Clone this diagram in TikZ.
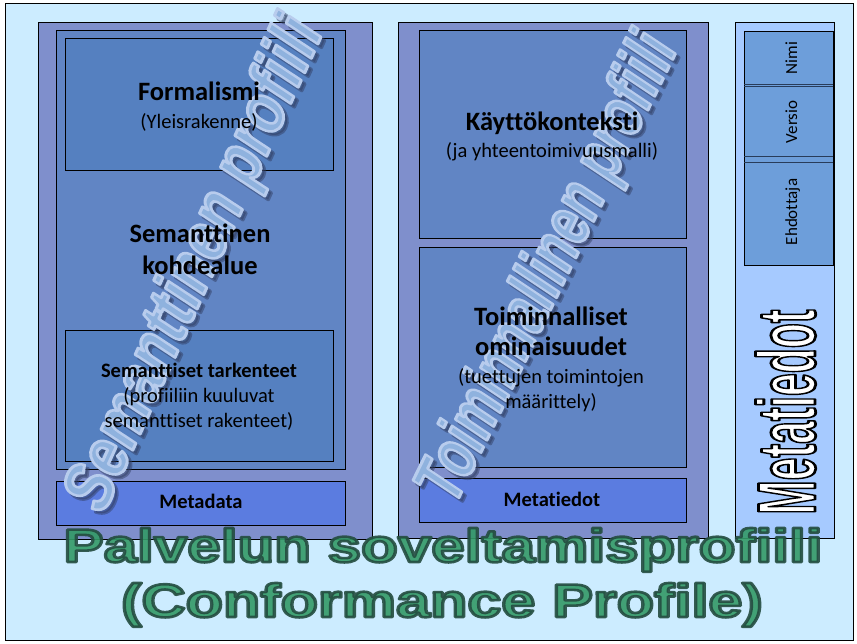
\documentclass[tikz,border=0pt]{standalone}
\usepackage{fontspec}
\usepackage{graphicx}
\setmainfont{Carlito}[Ligatures={NoCommon}]
\newfontfamily\arialfont{Liberation Sans}[Ligatures={NoCommon}]
\definecolor{bgblue}{RGB}{204,236,255}
\definecolor{panelc}{RGB}{127,143,204}
\definecolor{bigboxc}{RGB}{97,133,196}
\definecolor{subboxc}{RGB}{85,128,192}
\definecolor{metaboxc}{RGB}{91,124,224}
\definecolor{colbgc}{RGB}{166,202,255}
\definecolor{colboxc}{RGB}{109,158,218}
\definecolor{wmfillc}{RGB}{143,178,222}
\definecolor{wmshadowc}{RGB}{50,65,100}
\definecolor{titlegreen}{RGB}{51,153,102}
\definecolor{divc}{RGB}{40,60,90}
\newcommand\strokedtext[3]{\special{pdf:literal direct #1 RG #2 w 1 j 2 Tr}#3\special{pdf:literal direct 0 Tr}}
\begin{document}
\begin{tikzpicture}[x=1pt,y=-1pt,
  panelst/.style={draw=black, line width=0.9pt, fill=panelc},
  bigst/.style={draw=black, line width=0.9pt, fill=bigboxc},
  subst/.style={draw=black, line width=0.9pt, fill=subboxc},
  metast/.style={draw=black, line width=0.9pt, fill=metaboxc},
  colst/.style={draw=black, line width=0.9pt, fill=colbgc},
  colboxst/.style={draw=black, line width=0.9pt, fill=colboxc},
  divst/.style={draw=divc, line width=0.7pt},
  boldtxt/.style={font=\fontsize{26.5}{32}\selectfont\bfseries, anchor=base, inner sep=0pt},
  regtxt/.style={font=\fontsize{20.5}{25}\selectfont, anchor=base, inner sep=0pt},
  smallbold/.style={font=\fontsize{20.5}{25}\selectfont\bfseries, anchor=base, inner sep=0pt},
  coltxt/.style={font=\fontsize{17}{20}\selectfont, anchor=base, rotate=90, inner sep=0pt},
  wm/.style={inner sep=0pt, font=\arialfont\bfseries\itshape\fontsize{60}{60}\selectfont},
  titlest/.style={anchor=base, inner sep=0pt, text=titlegreen, opacity=0.9, font=\arialfont\bfseries\fontsize{47}{47}\selectfont}
]
\useasboundingbox (0,0) rectangle (857,643);
\fill[white] (0,0) rectangle (857,643);
\draw[fill=bgblue, line width=1pt] (5,3) rectangle (853,640);
% left panel
\draw[panelst] (38,22) rectangle (372,539);
\draw[bigst] (56,30) rectangle (345,469);
\draw[subst] (65,38) rectangle (333,170);
\draw[subst] (65,330) rectangle (333,461);
\draw[metast] (56,481) rectangle (345,525);
% middle panel
\draw[panelst] (398,22) rectangle (708,538);
\draw[bigst] (419,30) rectangle (686,238);
\draw[bigst] (419,247) rectangle (686,467);
\draw[metast] (419,478) rectangle (686,522);
% right column
\draw[colst] (735,22) rectangle (834,538);
\draw[colboxst] (744,31) rectangle (833,265);
\draw[divst] (744,84.5) -- (833,84.5);
\draw[divst] (744,86.5) -- (833,86.5);
\draw[divst] (744,156) -- (833,156);
\draw[divst] (744,162) -- (833,162);
% watermarks
\node[wm, rotate=65.5, text=wmshadowc, opacity=0.5] (wmSsh) at (200.5,268.5) {\scalebox{0.95}[1.18]{\strokedtext{0.2 0.25 0.4}{3}{Semanttinen profiili}}};
\node[wm, rotate=65.5, text=wmfillc] (wmS) at (197,265) {\scalebox{0.95}[1.18]{\strokedtext{0.72 0.8 0.93}{2.6}{Semanttinen profiili}}};
\node[wm, rotate=64, text=wmshadowc, opacity=0.5] (wmTsh) at (553.5,272.5) {\scalebox{0.82}[1.18]{\strokedtext{0.2 0.25 0.4}{3}{Toiminnallinen profiili}}};
\node[wm, rotate=64, text=wmfillc] (wmT) at (550,269) {\scalebox{0.82}[1.18]{\strokedtext{0.72 0.8 0.93}{2.6}{Toiminnallinen profiili}}};
% box texts
\node[boldtxt] (formalismi) at (199,100) {Formalismi};
\node[regtxt] (yleis) at (199,128) {(Yleisrakenne)};
\node[boldtxt] (sem1) at (200,242) {Semanttinen};
\node[boldtxt] (sem2) at (200,274) {kohdealue};
\node[smallbold] (tark) at (199,377) {Semanttiset tarkenteet};
\node[regtxt] (prof1) at (199,402) {(profiiliin kuuluvat};
\node[regtxt] (prof2) at (199,427) {semanttiset rakenteet)};
\node[smallbold] (metadata) at (201,508) {Metadata};
\node[boldtxt] (kaytto) at (552,130) {Käyttökonteksti};
\node[regtxt] (yht) at (552,157) {(ja yhteentoimivuusmalli)};
\node[boldtxt] (toim1) at (551,325) {Toiminnalliset};
\node[boldtxt] (toim2) at (551,355) {ominaisuudet};
\node[regtxt] (tuet1) at (551,383) {(tuettujen toimintojen};
\node[regtxt] (tuet2) at (551,408) {määrittely)};
\node[smallbold] (metatiedot) at (552,506) {Metatiedot};
% right column labels
\node[coltxt] (nimi) at (797,58) {Nimi};
\node[coltxt] (versio) at (797,122) {Versio};
\node[coltxt] (ehdottaja) at (797,212) {Ehdottaja};
\node[anchor=base, rotate=90, inner sep=0pt, text=white, font=\arialfont\bfseries\fontsize{82}{82}\selectfont] (metaV) at (815,412) {\scalebox{0.5}[1]{\strokedtext{0 0 0}{2.8}{Metatiedot}}};
% title
\node[titlest] (title1) at (443,562) {\scalebox{1.28}[1]{\strokedtext{0.14 0.3 0.25}{2.6}{Palvelun soveltamisprofiili}}};
\node[titlest] (title2) at (442,617) {\scalebox{1.3}[1]{\strokedtext{0.14 0.3 0.25}{2.6}{(Conformance Profile)}}};
\end{tikzpicture}
\end{document}
